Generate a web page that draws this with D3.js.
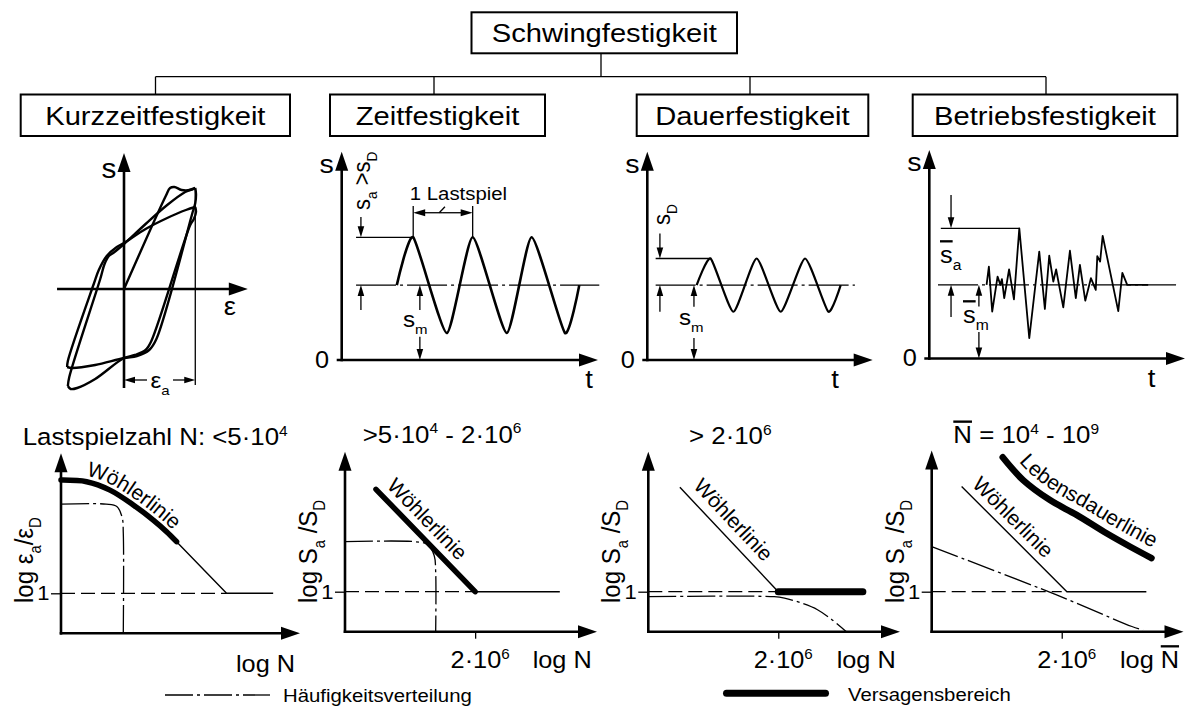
<!DOCTYPE html>
<html lang="de">
<head>
<meta charset="utf-8">
<title>Schwingfestigkeit</title>
<script src="https://cdn.jsdelivr.net/npm/d3@7/dist/d3.min.js"></script>
<style>
  html, body { margin: 0; padding: 0; background: #fff; }
  svg { display: block; }
  text { font-family: "Liberation Sans", Arial, Helvetica, sans-serif; fill: #000; white-space: pre; }
</style>
</head>
<body>
<svg id="chart" width="1187" height="709" viewBox="0 0 1187 709"></svg>
<script>
// ================= data =================
const rootLabel = "Schwingfestigkeit";
const branchLabels = ["Kurzzeitfestigkeit", "Zeitfestigkeit", "Dauerfestigkeit", "Betriebsfestigkeit"];

// Kurzzeitfestigkeit: hysteresis branches as [ε/ε_a, s/s_max]
const hystInitial = [[0, 0], [0.58, 0.93], [0.64, 1.01], [0.70, 1.02], [0.80, 0.99], [0.92, 0.99], [0.99, 1.01]];
const hystUnload1 = [[0.99, 1.01], [1.0, 0.95], [0.99, 0.86], [0.95, 0.76], [0.45, -0.50], [0.35, -0.61], [0.18, -0.67], [0, -0.69], [-0.40, -0.76], [-0.72, -0.79], [-0.79, -0.78]];
const hystReload1 = [[-0.79, -0.78], [-0.78, -0.72], [-0.42, 0.05], [-0.35, 0.19], [-0.24, 0.33], [-0.10, 0.42], [0, 0.46], [0.30, 0.60], [0.60, 0.71], [0.86, 0.79], [0.99, 0.82]];
const hystUnload2 = [[0.99, 0.82], [1.0, 0.77], [0.97, 0.70], [0.92, 0.64], [0.38, -0.52], [0.30, -0.61], [0.15, -0.66], [0, -0.69], [-0.40, -0.90], [-0.65, -0.99], [-0.74, -1.0], [-0.78, -0.97]];
const hystReload2 = [[-0.78, -0.97], [-0.76, -0.88], [-0.33, 0.10], [-0.27, 0.25], [-0.21, 0.33], [-0.15, 0.36], [0, 0.45], [0.30, 0.65], [0.60, 0.84], [0.85, 0.97], [0.99, 1.01]];

// Zeitfestigkeit: turning points of the constant-amplitude load (t, s)
const zeitT = [2.15, 2.79, 4.10, 5.11, 6.44, 7.41, 8.71, 9.27];
const zeitS = [1.8, 2.95, 0.65, 2.95, 0.65, 2.95, 0.65, 1.8];
const zeitMean = 1.8;

// Dauerfestigkeit: amplitude at the fatigue limit
const dauerT = [2.19, 2.81, 3.82, 4.85, 5.92, 7.0, 8.03, 8.58];
const dauerS = [1.8, 2.44, 1.16, 2.44, 1.16, 2.44, 1.16, 1.8];
const dauerMean = 1.8;

// Betriebsfestigkeit: random service load history
const betriebT = [2.24, 2.33, 2.46, 2.67, 2.78, 2.84, 2.93, 3.12, 3.31, 3.52, 3.91, 4.30, 4.52, 4.69, 4.85, 4.96, 5.24, 5.50, 5.73, 5.89, 6.10, 6.32, 6.51, 6.57, 6.68, 6.78, 7.39, 7.55, 7.74, 8.56];
const betriebS = [1.77, 2.21, 1.13, 1.97, 1.77, 1.91, 1.45, 2.14, 1.42, 3.13, 0.49, 2.57, 1.19, 2.47, 1.85, 2.14, 1.23, 2.59, 1.45, 2.25, 1.39, 1.93, 1.65, 2.46, 2.33, 2.95, 1.14, 2.06, 1.77, 1.77];
const betriebMean = 1.77;

// S-N diagrams (x: log N, y: log of amplitude ratio)
const rangeTitles = ["Lastspielzahl N: <5·10^{4}", ">5·10^{4} - 2·10^{6}", "> 2·10^{6}", "~{N} = 10^{4} - 10^{9}"];
const yAxisTitles = ["log ε_{a}/ε_{D}", "log S_{a} /S_{D}", "log S_{a} /S_{D}", "log S_{a} /S_{D}"];
const xAxisTitles = ["log N", "log N", "log N", "log ~{N}"];
const kneeLogN = 6.3;            // log(2·10^6)
const kneeLabel = "2·10^{6}";
const ratioTick = 1;

const woehler1Thick = [[0, 3.83], [1.31, 3.79], [2.5, 3.58], [3.69, 3.21], [4.71, 2.83], [5.39, 2.54], [5.9, 2.29]];
const woehler1Thin = [[5.9, 2.29], [8.45, 1], [10.83, 1]];
const freq1 = [[0, 3.23], [2.3, 3.23], [2.85, 3.17], [3.12, 2.9], [3.18, 2.5], [3.18, 0]];

const woehler2 = [[1.5, 3.56], [6.3, 1]];
const endurance2 = [[6.3, 1], [10.4, 1]];
const freq2 = [[0, 2.25], [3.4, 2.25], [4.0, 2.18], [4.32, 1.9], [4.39, 1.5], [4.39, 0]];

const woehler3 = [[1.53, 3.61], [6.3, 1]];
const endurance3 = [[6.3, 1], [10.4, 1]];
const freq3 = [[0, 0.875], [6.1, 0.875], [6.6, 0.84], [7.4, 0.72], [8.2, 0.55], [8.9, 0.3], [9.6, 0]];

const woehler4 = [[1.45, 3.63], [6.55, 1], [10.4, 1]];
const lebensdauer4 = [[3.44, 4.36], [4.43, 3.79], [5.73, 3.29], [7.02, 2.92], [8.47, 2.46], [9.6, 2.13], [10.65, 1.84]];
const freq4 = [[0, 2.125], [6.05, 0.92], [9.7, 0.13], [10.24, 0.04]];

const curveNames = ["Wöhlerlinie", "Lebensdauerlinie"];
const legendLabels = ["Häufigkeitsverteilung", "Versagensbereich"];

// ================= helpers =================
const svg = d3.select("#chart");
const defs = svg.append("defs");
const SX = 1.1;                       // width factor of the lettering
const dashDot = "28,4,3,4";
const meanDash = "40,4,3,4";
const smooth = d3.curveCatmullRom.alpha(0.5);

function rich(t, str, size) {
  const re = /([\^_~])\{([^}]*)\}|([^\^_~]+)/g;
  let m, cur = 0;
  while ((m = re.exec(str)) !== null) {
    let txt = m[3], off = 0, fs = size, over = false;
    if (txt === undefined) {
      txt = m[2];
      if (m[1] === "^") { off = -0.4 * size; fs = 0.6 * size; }
      else if (m[1] === "_") { off = 0.3 * size; fs = 0.62 * size; }
      else over = true;
    }
    const ts = t.append("tspan").attr("font-size", fs).text(txt);
    if (off - cur !== 0) ts.attr("dy", off - cur);
    if (over) ts.style("text-decoration", "overline");
    cur = off;
  }
  return t;
}

function label(g, x, y, str, size, anchor = "start", rot = 0) {
  const t = g.append("text")
    .attr("transform", `translate(${x},${y}) scale(${SX},1)${rot ? ` rotate(${rot})` : ""}`)
    .attr("text-anchor", anchor)
    .attr("font-size", size);
  return rich(t, str, size);
}

function seg(g, x1, y1, x2, y2, w = 1.3, dash = null) {
  return g.append("line")
    .attr("x1", x1).attr("y1", y1).attr("x2", x2).attr("y2", y2)
    .attr("stroke", "#000").attr("stroke-width", w)
    .attr("stroke-dasharray", dash);
}

function arrow(g, fx, fy, tx, ty, len = 11, half = 3.3, w = 1.3) {
  const L = Math.hypot(tx - fx, ty - fy), ux = (tx - fx) / L, uy = (ty - fy) / L;
  const bx = tx - ux * len, by = ty - uy * len;
  seg(g, fx, fy, bx + ux * 2, by + uy * 2, w);
  g.append("path")
    .attr("d", `M${tx},${ty}L${bx - uy * half},${by + ux * half}L${bx + uy * half},${by - ux * half}Z`)
    .attr("fill", "#000");
}
const axisArrow = (g, fx, fy, tx, ty) => arrow(g, fx, fy, tx, ty, 19, 6.5, 2.6);

const lineXY = (x, y, curve) => d3.line().x(d => x(d[0])).y(d => y(d[1])).curve(curve);

function stroke(g, data, gen, w, dash = null) {
  return g.append("path").datum(data).attr("d", gen)
    .attr("fill", "none").attr("stroke", "#000").attr("stroke-width", w)
    .attr("stroke-linejoin", "round").attr("stroke-dasharray", dash);
}

function tickAxis(g, axis, tx, ty, size, fmt, dx = 0) {
  const a = g.append("g").attr("transform", `translate(${tx},${ty})`).call(axis);
  a.select(".domain").remove();
  a.selectAll(".tick line").attr("stroke", "#000").attr("stroke-width", 1.3);
  a.selectAll(".tick text").each(function (d) {
    const t = d3.select(this).text(null).attr("font-size", size).attr("fill", "#000")
      .attr("transform", `translate(${dx},0) scale(${SX},1)`);
    rich(t, fmt(d), size);
  });
  return a;
}

function offsetPts(pts, d) {
  return pts.map((p, i) => {
    const a = pts[Math.max(0, i - 1)], b = pts[Math.min(pts.length - 1, i + 1)];
    const dx = b[0] - a[0], dy = b[1] - a[1], L = Math.hypot(dx, dy);
    return [p[0] + dy / L * d, p[1] - dx / L * d];
  });
}

// ================= hierarchy =================
{
  const g = svg.append("g");
  const root = { x: 471.5, y: 12.3, w: 265.5, h: 41 };
  const boxes = [{ x: 20.7, w: 269.3 }, { x: 330, w: 215 }, { x: 636.7, w: 231.6 }, { x: 912.7, w: 264.6 }];
  const drops = [155.5, 434, 750, 1046];
  const top = 94.5, h = 41.5, busY = 76.7, rootX = 601;

  g.append("rect").attr("x", root.x).attr("y", root.y).attr("width", root.w).attr("height", root.h)
    .attr("fill", "none").attr("stroke", "#000").attr("stroke-width", 2);
  label(g, root.x + root.w / 2, 42, rootLabel, 26.5, "middle");
  seg(g, rootX, root.y + root.h, rootX, busY);
  seg(g, drops[0], busY, drops[drops.length - 1], busY);
  branchLabels.forEach((name, i) => {
    const b = boxes[i];
    seg(g, drops[i], busY, drops[i], top);
    g.append("rect").attr("x", b.x).attr("y", top).attr("width", b.w).attr("height", h)
      .attr("fill", "none").attr("stroke", "#000").attr("stroke-width", 2);
    label(g, b.x + b.w / 2, 124.5, name, 26.5, "middle");
  });
}

// ================= Kurzzeitfestigkeit: hysteresis =================
{
  const g = svg.append("g");
  const x = d3.scaleLinear().domain([-1, 1]).range([52, 196]);
  const y = d3.scaleLinear().domain([-1, 1]).range([389, 189]);
  const gen = lineXY(x, y, smooth);

  seg(g, x(0.99), y(1.01), x(0.99), y(-0.96));
  [hystInitial, hystUnload1, hystReload1, hystUnload2, hystReload2].forEach(b => stroke(g, b, gen, 2.4));

  axisArrow(g, x(-0.93), y(0), x(1.72), y(0));
  axisArrow(g, x(0), y(-0.99), x(0), y(1.36));

  arrow(g, x(0.32), 380, x(0), 380);
  arrow(g, x(0.68), 380, x(0.99), 380);
  label(g, x(0.5), 388, "ε_{a}", 22, "middle");

  label(g, 109, 178, "s", 27, "middle");
  label(g, 230, 315, "ε", 25, "middle");
}

// ================= load-time panels =================
const topFrames = [
  { x0: 341.7, y0: 360, xTip: 598, yTip: 151.7, tx: 589 },
  { x0: 647.3, y0: 360, xTip: 872.7, yTip: 151.7, tx: 835 },
  { x0: 929.3, y0: 358.5, xTip: 1185, yTip: 150, tx: 1151.5 }
];

function timeFrame(f) {
  const g = svg.append("g");
  const x = d3.scaleLinear().domain([0, 10]).range([f.x0, f.xTip]);
  const y = d3.scaleLinear().domain([0, 5]).range([f.y0, f.y0 - 208]);
  axisArrow(g, f.x0 - 5, f.y0, f.xTip, f.y0);
  axisArrow(g, f.x0, f.y0 + 1.3, f.x0, f.yTip);
  tickAxis(g, d3.axisLeft(y).tickValues([0]).tickSize(0).tickPadding(11.4), f.x0, 0, 23, d => String(d));
  label(g, f.x0 - 15, f.yTip + 21, "s", 26, "middle");
  label(g, f.tx, f.y0 + 28, "t", 25, "middle");
  return { g, x, y };
}

// Zeitfestigkeit
{
  const { g, x, y } = timeFrame(topFrames[0]);
  const peak = d3.max(zeitS), sm = zeitMean;
  seg(g, x(0.56), y(peak), x(zeitT[1]), y(peak));
  seg(g, x(0.56), y(sm), x(10.05), y(sm), 1.3, meanDash);
  stroke(g, d3.zip(zeitT, zeitS), lineXY(x, y, d3.curveCardinal.tension(0.45)), 2.6);

  arrow(g, x(0.75), y(3.44), x(0.75), y(peak));
  arrow(g, x(0.75), y(1.2), x(0.75), y(sm));
  label(g, 370, 210, "s_{a} >s_{D}", 22, "start", -90);

  arrow(g, x(3.05), y(1.2), x(3.05), y(sm));
  arrow(g, x(3.05), y(0.56), x(3.05), y(0));
  label(g, 403, 327, "s_{m}", 22);

  const p1 = x(zeitT[1]), p2 = x(zeitT[3]);
  seg(g, p1, y(peak), p1, y(3.70));
  seg(g, p2, y(peak), p2, y(3.70));
  const dimY = y(3.54), mid = (p1 + p2) / 2;
  arrow(g, mid, dimY, p1, dimY, 12, 3.6);
  arrow(g, mid, dimY, p2, dimY, 12, 3.6);
  seg(g, mid + 2, dimY - 6, mid - 3.7, dimY);
  label(g, mid + 15.5, 200, "1 Lastspiel", 18.5, "middle");
}

// Dauerfestigkeit
{
  const { g, x, y } = timeFrame(topFrames[1]);
  const peak = d3.max(dauerS), sm = dauerMean;
  seg(g, x(0.37), y(peak), x(dauerT[1]), y(peak));
  seg(g, x(0.37), y(sm), x(9.21), y(sm), 1.3, meanDash);
  stroke(g, d3.zip(dauerT, dauerS), lineXY(x, y, d3.curveCardinal.tension(0.45)), 2.2);

  arrow(g, x(0.56), y(3.04), x(0.56), y(peak));
  arrow(g, x(0.56), y(1.16), x(0.56), y(sm));
  label(g, 670, 225, "s_{D}", 22, "start", -90);

  arrow(g, x(2.07), y(1.28), x(2.07), y(sm));
  arrow(g, x(2.07), y(0.53), x(2.07), y(0));
  label(g, 679, 325, "s_{m}", 22);
}

// Betriebsfestigkeit
{
  const { g, x, y } = timeFrame(topFrames[2]);
  const iPeak = d3.maxIndex(betriebS), peak = betriebS[iPeak], sm = betriebMean;
  seg(g, x(0.45), y(peak), x(betriebT[iPeak]), y(peak));
  seg(g, x(0.34), y(sm), x(9.65), y(sm), 1.3, meanDash);
  stroke(g, d3.zip(betriebT, betriebS), lineXY(x, y, d3.curveLinear), 1.8);

  arrow(g, x(0.85), y(3.93), x(0.85), y(peak));
  arrow(g, x(0.85), y(1.0), x(0.85), y(sm));
  label(g, 940, 263, "~{s}_{a}", 23);

  arrow(g, x(1.94), y(1.25), x(1.94), y(sm));
  arrow(g, x(1.94), y(0.64), x(1.94), y(0));
  label(g, 963, 323, "~{s}_{m}", 23);
}

// ================= S-N diagrams =================
const botFrames = [
  { x0: 61, y0: 633.3, xTip: 300, yTip: 453.3, title: [22.7, 445], xt: [236, 671.7] },
  { x0: 345, y0: 631.7, xTip: 597, yTip: 451.7, title: [362.7, 442.7], xt: [532.7, 668] },
  { x0: 648.3, y0: 631.7, xTip: 900, yTip: 451.7, title: [689, 444], xt: [836.7, 668] },
  { x0: 931.7, y0: 631.7, xTip: 1183.5, yTip: 450.5, title: [953.3, 443.3], xt: [1120, 668] }
];

const snPanels = [
  { dashTo: 8.45, freq: freq1, thin: [woehler1Thin], thick: [woehler1Thick], thickW: 5.5, knee: false,
    guides: [{ pts: woehler1Thick, off: 5.5, at: "55%", name: curveNames[0] }] },
  { dashTo: kneeLogN, freq: freq2, thin: [endurance2], thick: [woehler2], thickW: 5.5, knee: true,
    guides: [{ pts: woehler2, off: 9, at: "40%", name: curveNames[0] }] },
  { dashTo: kneeLogN, freq: freq3, thin: [woehler3], thick: [endurance3], thickW: 7, knee: true,
    guides: [{ pts: woehler3, off: 9.5, at: "42%", name: curveNames[0] }] },
  { dashTo: kneeLogN, freq: freq4, thin: [woehler4], thick: [lebensdauer4], thickW: 6.5, knee: true,
    guides: [{ pts: woehler4.slice(0, 2), off: 7.5, at: "39%", name: curveNames[0] },
             { pts: lebensdauer4, off: 9.5, at: "53%", name: curveNames[1] }] }
];

snPanels.forEach((p, i) => {
  const f = botFrames[i];
  const g = svg.append("g");
  const x = d3.scaleLinear().domain([0, 12.2]).range([f.x0, f.xTip]);
  const y = d3.scaleLinear().domain([0, 4.5]).range([f.y0, f.y0 - 180]);

  seg(g, x(0), y(ratioTick), x(p.dashTo), y(ratioTick), 1.3, "14,6");
  stroke(g, p.freq, lineXY(x, y, smooth), 1.3, dashDot);
  p.thin.forEach(c => stroke(g, c, lineXY(x, y, d3.curveLinear), 1.4));
  p.thick.forEach(c => stroke(g, c, lineXY(x, y, smooth), p.thickW).attr("stroke-linecap", "round"));

  axisArrow(g, x(0), y(0) + 1.3, x(0), f.yTip);
  axisArrow(g, x(0) - 1.3, y(0), f.xTip, y(0));

  tickAxis(g, d3.axisLeft(y).tickValues([ratioTick]).tickSize(10).tickPadding(0.5), x(0), 0, 20, d => String(d));
  if (p.knee) {
    tickAxis(g, d3.axisBottom(x).tickValues([kneeLogN]).tickSize(7).tickPadding(13), 0, y(0), 23, () => kneeLabel, 4.5);
  }

  label(g, f.title[0], f.title[1], rangeTitles[i], 23.5);
  label(g, f.xt[0], f.xt[1], xAxisTitles[i], 23);
  label(g, x(0) - 28, 603, yAxisTitles[i], 24, "start", -90);

  p.guides.forEach((gd, j) => {
    const px = gd.pts.map(d => [x(d[0]), y(d[1])]);
    const id = `guide-${i}-${j}`;
    defs.append("path").attr("id", id).attr("d", d3.line().curve(smooth)(offsetPts(px, gd.off)));
    g.append("text").attr("font-size", 21).attr("text-anchor", "middle")
      .append("textPath").attr("href", `#${id}`).attr("startOffset", gd.at).text(gd.name);
  });
});

// ================= legend =================
{
  const g = svg.append("g");
  seg(g, 165, 695, 270, 695, 1.3, dashDot);
  label(g, 283, 701.5, legendLabels[0], 18.5);
  seg(g, 726.5, 693.3, 825.5, 693.3, 7).attr("stroke-linecap", "round");
  label(g, 848, 700.5, legendLabels[1], 18.5);
}
</script>
</body>
</html>
